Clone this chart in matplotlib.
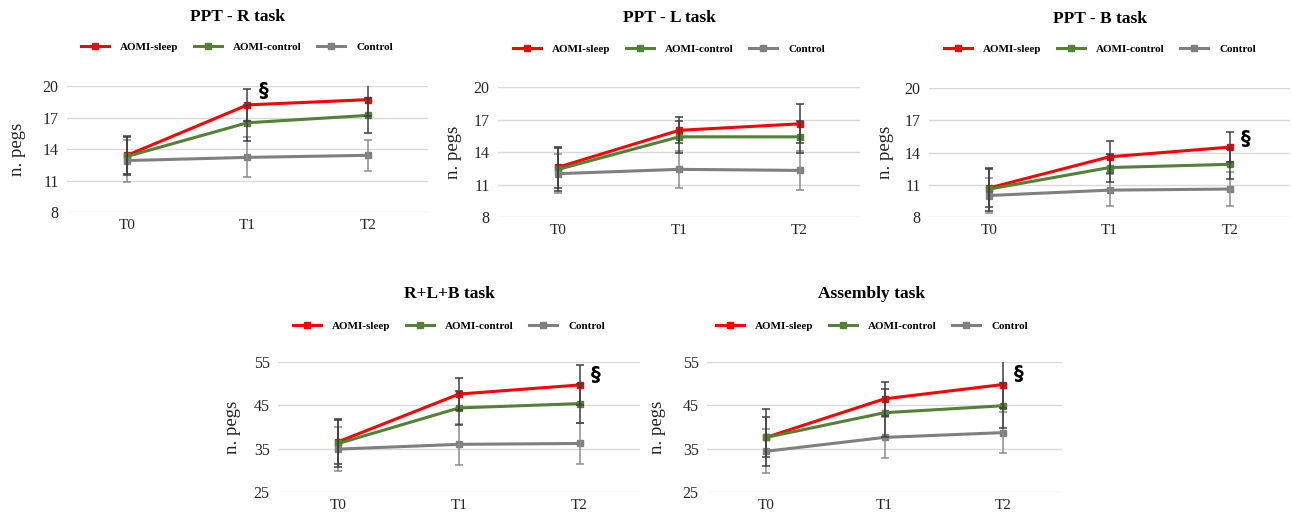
import numpy as np
import matplotlib.pyplot as plt

W, H = 1293, 516

times = ['T0', 'T1', 'T2']
groups = ['AOMI-sleep', 'AOMI-control', 'Control']

titles = ['PPT - R task', 'PPT - L task', 'PPT - B task', 'R+L+B task', 'Assembly task']

# means per panel: [sleep, aomi-control, control]
means_r = [[13.4, 18.2, 18.7], [13.3, 16.5, 17.2], [12.9, 13.2, 13.4]]
sd_r = [[1.8, 1.5, 1.6], [1.8, 1.7, 1.7], [2.0, 1.9, 1.5]]

means_l = [[12.6, 16.0, 16.6], [12.4, 15.4, 15.4], [12.0, 12.4, 12.3]]
sd_l = [[1.9, 1.2, 1.8], [2.0, 1.5, 1.5], [1.8, 1.7, 1.8]]

means_b = [[10.7, 13.6, 14.5], [10.6, 12.6, 12.9], [10.0, 10.5, 10.6]]
sd_b = [[1.8, 1.5, 1.4], [2.0, 1.3, 1.4], [1.6, 1.5, 1.6]]

means_rlb = [[36.6, 47.6, 49.7], [36.2, 44.4, 45.4], [34.9, 36.0, 36.2]]
sd_rlb = [[5.2, 3.6, 4.6], [5.4, 3.9, 4.5], [5.0, 4.8, 4.7]]

means_ass = [[37.6, 46.5, 49.8], [37.6, 43.3, 44.9], [34.4, 37.6, 38.7]]
sd_ass = [[6.6, 3.9, 5.4], [4.6, 5.5, 5.2], [5.1, 4.8, 4.7]]

all_means = [means_r, means_l, means_b, means_rlb, means_ass]
all_sd = [sd_r, sd_l, sd_b, sd_rlb, sd_ass]

ticks_small = [8, 11, 14, 17, 20]
ticks_big = [25, 35, 45, 55]
all_ticks = [ticks_small, ticks_small, ticks_small, ticks_big, ticks_big]

# significance marks: panel -> (time index, y)
sig = {0: (1, 19.6), 2: (2, 15.3), 3: (2, 52.2), 4: (2, 52.3)}

colors = ['#ff0000', '#538135', '#808080']
err_colors = ['#404040', '#404040', '#8c8c8c']

# axes boxes in pixels: left, right, top, bottom
boxes = [(67, 428, 86, 212), (498, 860, 87, 217), (929, 1290, 88, 217),
         (278, 640, 362, 492), (707, 1062, 362, 492)]
title_pos = [(237, 17), (669, 18), (1100, 19), (449, 294), (872, 294)]
leg_y = [47, 49, 49, 326, 326]
ylab_x = [17, 453, 885, 233, 657]

plt.rcParams['font.family'] = ['Liberation Serif', 'DejaVu Serif']
fig = plt.figure(figsize=(W / 100, H / 100), dpi=100)

x = np.arange(3)
for k in range(5):
    l, r, t, b = boxes[k]
    ax = fig.add_axes([l / W, 1 - b / H, (r - l) / W, (b - t) / H])
    ticks = all_ticks[k]
    hs = []
    for g in [2, 1, 0]:
        ax.errorbar(x, all_means[k][g], yerr=all_sd[k][g], fmt='none',
                    ecolor=err_colors[g], elinewidth=1.1, capsize=3, capthick=1.1, zorder=4)
    for g in [2, 1, 0]:
        h, = ax.plot(x, all_means[k][g], color=colors[g], lw=2.2, marker='s',
                     markersize=5, zorder=3 + g * 0.1, label=groups[g])
        hs.append(h)
    ax.set_xlim(-0.5, 2.5)
    ax.set_ylim(ticks[0], ticks[-1])
    ax.set_yticks(ticks)
    ax.set_xticks(x)
    ax.set_xticklabels(times)
    ax.yaxis.grid(True, color='#d9d9d9', lw=1)
    ax.set_axisbelow(True)
    for s in ax.spines.values():
        s.set_visible(False)
    ax.tick_params(length=0, labelsize=11.5, labelcolor='#262626', pad=6)
    ax.tick_params(axis='x', labelsize=11, pad=5)
    fig.text(ylab_x[k] / W, 1 - ((t + b) / 2) / H, 'n. pegs', rotation=90,
             ha='center', va='center', fontsize=13.5, color='#222222')
    fig.text(title_pos[k][0] / W, 1 - title_pos[k][1] / H, titles[k],
             ha='center', va='center', fontsize=12.5, fontweight='bold')
    # legend centred under the title
    cx = title_pos[k][0]
    fig.legend(handles=hs[::-1], loc='center', ncol=3, frameon=False,
               bbox_to_anchor=(cx / W, 1 - leg_y[k] / H),
               prop={'weight': 'bold', 'size': 8}, handlelength=2.5,
               columnspacing=1.4, handletextpad=1.0)
    if k in sig:
        ti, yv = sig[k]
        ax.annotate('§', xy=(ti, yv), xytext=(8, 0), textcoords='offset points',
                    fontsize=14, fontweight='bold', family='DejaVu Sans',
                    va='center', ha='left', annotation_clip=False)

fig.savefig('out.png', dpi=100)
